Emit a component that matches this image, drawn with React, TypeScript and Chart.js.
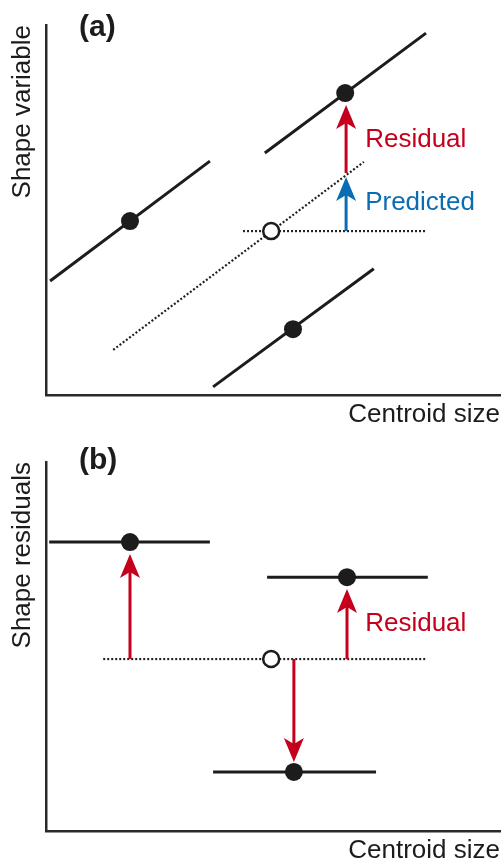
import React, { useEffect, useRef } from "react";
import { Chart, registerables } from "chart.js";

Chart.register(...registerables);

// ---------- Panel (a) data ----------
const aGroupLineX: number[][] = [
  [0.09, 3.61],
  [4.82, 8.37],
  [3.68, 7.22],
];
const aGroupLineY: number[][] = [
  [3.08, 6.32],
  [6.54, 9.78],
  [0.22, 3.41],
];
const aMeanX: number[] = [1.85, 6.59, 5.44];
const aMeanY: number[] = [4.7, 8.16, 1.78];
const aGrandX: number[] = [4.96];
const aGrandY: number[] = [4.43];
const aFitX: number[] = [1.48, 7.0];
const aFitY: number[] = [1.22, 6.3];
const aRefX: number[] = [4.34, 8.37];
const aRefY: number[] = [4.43, 4.43];
// arrows: x, from, to, colour key
const aArrowX: number[] = [6.61, 6.61];
const aArrowFrom: number[] = [4.43, 6.0];
const aArrowTo: number[] = [5.89, 7.84];
const aArrowKind: string[] = ["blue", "red"];
const aLabelText: string[] = ["Residual", "Predicted"];
const aLabelX: number[] = [7.03, 7.03];
const aLabelY: number[] = [6.89, 5.19];
const aLabelKind: string[] = ["red", "blue"];

// ---------- Panel (b) data ----------
const bGroupLineX: number[][] = [
  [0.07, 3.61],
  [4.87, 8.41],
  [3.68, 7.27],
];
const bGroupLineY: number[][] = [
  [7.83, 7.83],
  [6.88, 6.88],
  [1.6, 1.6],
];
const bMeanX: number[] = [1.85, 6.63, 5.46];
const bMeanY: number[] = [7.83, 6.88, 1.6];
const bGrandX: number[] = [4.96];
const bGrandY: number[] = [4.66];
const bRefX: number[] = [1.26, 8.37];
const bRefY: number[] = [4.66, 4.66];
const bArrowX: number[] = [1.85, 6.63, 5.46];
const bArrowFrom: number[] = [4.66, 4.66, 4.66];
const bArrowTo: number[] = [7.51, 6.56, 1.87];
const bArrowKind: string[] = ["red", "red", "red"];
const bLabelText: string[] = ["Residual"];
const bLabelX: number[] = [7.03];
const bLabelY: number[] = [5.61];
const bLabelKind: string[] = ["red"];

const FONT = "'Liberation Sans', Arial, Helvetica, sans-serif";
const COLORS: Record<string, string> = {
  red: "#c4001c",
  blue: "#0a6cb3",
  black: "#1c1c1c",
};

function pts(xs: number[], ys: number[]) {
  return xs.map((x, i) => ({ x, y: ys[i] }));
}

type PanelSpec = {
  tag: string;
  yTitle: string;
  lineX: number[][];
  lineY: number[][];
  meanX: number[];
  meanY: number[];
  grandX: number[];
  grandY: number[];
  fitX?: number[];
  fitY?: number[];
  refX: number[];
  refY: number[];
  arrowX: number[];
  arrowFrom: number[];
  arrowTo: number[];
  arrowKind: string[];
  labelText: string[];
  labelX: number[];
  labelY: number[];
  labelKind: string[];
  padTop: number;
  tagBaseline: number;
  xTitlePad: { top: number; bottom: number };
};

function buildChart(canvas: HTMLCanvasElement, s: PanelSpec) {
  const datasets: any[] = [];
  datasets.push({
    data: pts(s.meanX, s.meanY),
    pointRadius: 9,
    pointBackgroundColor: COLORS.black,
    pointBorderColor: COLORS.black,
    pointBorderWidth: 0,
    showLine: false,
    order: 0,
  });
  datasets.push({
    data: pts(s.grandX, s.grandY),
    pointRadius: 8,
    pointBackgroundColor: "#ffffff",
    pointBorderColor: COLORS.black,
    pointBorderWidth: 2.5,
    showLine: false,
    order: 0,
  });
  s.lineX.forEach((xs, i) => {
    datasets.push({
      data: pts(xs, s.lineY[i]),
      showLine: true,
      borderColor: COLORS.black,
      borderWidth: 3,
      pointRadius: 0,
      borderCapStyle: "butt",
      order: 2,
    });
  });
  if (s.fitX && s.fitY) {
    datasets.push({
      data: pts(s.fitX, s.fitY),
      showLine: true,
      borderColor: "#222",
      borderWidth: 2.2,
      borderDash: [2, 2],
      pointRadius: 0,
      order: 3,
    });
  }
  datasets.push({
    data: pts(s.refX, s.refY),
    showLine: true,
    borderColor: "#222",
    borderWidth: 2.2,
    borderDash: [2, 2],
    pointRadius: 0,
    order: 3,
  });

  const overlay = {
    id: "overlay_" + s.tag,
    afterDatasetsDraw(chart: any) {
      const ctx = chart.ctx as CanvasRenderingContext2D;
      const xs = chart.scales.x;
      const ys = chart.scales.y;
      ctx.save();
      // arrows
      s.arrowX.forEach((ax, i) => {
        const px = xs.getPixelForValue(ax);
        const p0 = ys.getPixelForValue(s.arrowFrom[i]);
        const p1 = ys.getPixelForValue(s.arrowTo[i]);
        const d = Math.sign(p1 - p0);
        const L = 24;
        const notch = 6;
        const hw = 10;
        const col = COLORS[s.arrowKind[i]];
        ctx.strokeStyle = col;
        ctx.fillStyle = col;
        ctx.lineWidth = 3;
        ctx.lineCap = "butt";
        ctx.beginPath();
        ctx.moveTo(px, p0);
        ctx.lineTo(px, p1 - d * (L - notch - 1));
        ctx.stroke();
        ctx.beginPath();
        ctx.moveTo(px, p1);
        ctx.lineTo(px - hw, p1 - d * L);
        ctx.lineTo(px, p1 - d * (L - notch));
        ctx.lineTo(px + hw, p1 - d * L);
        ctx.closePath();
        ctx.fill();
      });
      // labels
      ctx.font = `26px ${FONT}`;
      ctx.textAlign = "left";
      ctx.textBaseline = "middle";
      s.labelText.forEach((t, i) => {
        ctx.fillStyle = COLORS[s.labelKind[i]];
        ctx.fillText(t, xs.getPixelForValue(s.labelX[i]), ys.getPixelForValue(s.labelY[i]));
      });
      ctx.restore();
    },
    afterDraw(chart: any) {
      const ctx = chart.ctx as CanvasRenderingContext2D;
      ctx.save();
      ctx.font = `bold 30px ${FONT}`;
      ctx.fillStyle = "#1c1c1c";
      ctx.textAlign = "left";
      ctx.textBaseline = "alphabetic";
      ctx.fillText(`(${s.tag})`, 79, s.tagBaseline);
      ctx.restore();
    },
  };

  return new Chart(canvas, {
    type: "scatter",
    data: { datasets },
    options: {
      animation: false,
      responsive: false,
      events: [],
      layout: { autoPadding: false, padding: { top: s.padTop, right: 1, left: 0, bottom: 0 } },
      plugins: { legend: { display: false }, tooltip: { enabled: false } },
      scales: {
        x: {
          type: "linear",
          min: 0,
          max: 10,
          ticks: { display: false },
          grid: { display: false, drawTicks: false },
          border: { display: true, color: "#2a2a2a", width: 2.5 },
          title: {
            display: true,
            text: "Centroid size",
            align: "end",
            color: "#1c1c1c",
            font: { family: FONT, size: 26, lineHeight: 1 },
            padding: s.xTitlePad,
          },
        },
        y: {
          type: "linear",
          min: 0,
          max: 10,
          ticks: { display: false },
          grid: { display: false, drawTicks: false },
          border: { display: true, color: "#2a2a2a", width: 2.5 },
          title: {
            display: true,
            text: s.yTitle,
            align: "end",
            color: "#1c1c1c",
            font: { family: FONT, size: 26, lineHeight: 1 },
            padding: { top: 10, bottom: 10 },
          },
        },
      },
    } as any,
    plugins: [overlay],
  });
}

export default function App() {
  const refA = useRef<HTMLCanvasElement>(null);
  const refB = useRef<HTMLCanvasElement>(null);

  useEffect(() => {
    const cA = buildChart(refA.current!, {
      tag: "a",
      yTitle: "Shape variable",
      lineX: aGroupLineX,
      lineY: aGroupLineY,
      meanX: aMeanX,
      meanY: aMeanY,
      grandX: aGrandX,
      grandY: aGrandY,
      fitX: aFitX,
      fitY: aFitY,
      refX: aRefX,
      refY: aRefY,
      arrowX: aArrowX,
      arrowFrom: aArrowFrom,
      arrowTo: aArrowTo,
      arrowKind: aArrowKind,
      labelText: aLabelText,
      labelX: aLabelX,
      labelY: aLabelY,
      labelKind: aLabelKind,
      padTop: 25,
      tagBaseline: 36,
      xTitlePad: { top: 7, bottom: 4 },
    });
    const cB = buildChart(refB.current!, {
      tag: "b",
      yTitle: "Shape residuals",
      lineX: bGroupLineX,
      lineY: bGroupLineY,
      meanX: bMeanX,
      meanY: bMeanY,
      grandX: bGrandX,
      grandY: bGrandY,
      refX: bRefX,
      refY: bRefY,
      arrowX: bArrowX,
      arrowFrom: bArrowFrom,
      arrowTo: bArrowTo,
      arrowKind: bArrowKind,
      labelText: bLabelText,
      labelX: bLabelX,
      labelY: bLabelY,
      labelKind: bLabelKind,
      padTop: 30,
      tagBaseline: 37,
      xTitlePad: { top: 7, bottom: 0 },
    });
    return () => {
      cA.destroy();
      cB.destroy();
    };
  }, []);

  return (
    <div style={{ position: "absolute", left: 0, top: 0, width: 501, height: 864, background: "#fff" }}>
      <canvas ref={refA} width={501} height={432} style={{ display: "block" }} />
      <canvas ref={refB} width={501} height={432} style={{ display: "block" }} />
    </div>
  );
}
